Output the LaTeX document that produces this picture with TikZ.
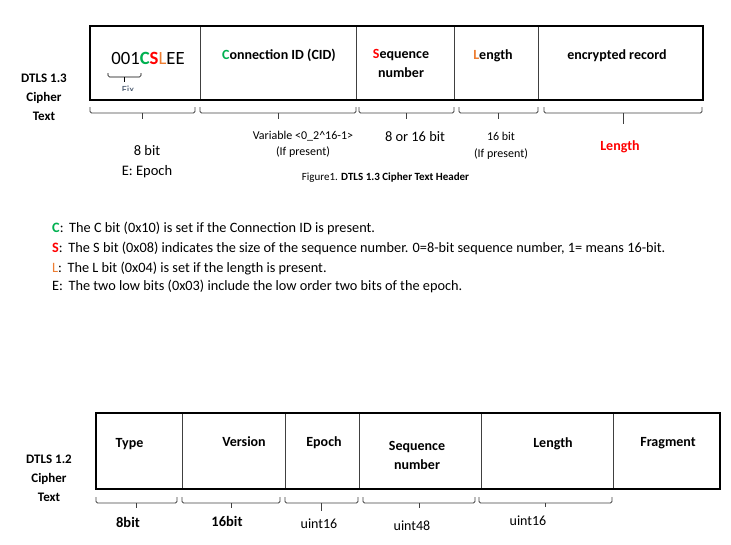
\documentclass[tikz,border=0pt]{standalone}
\usepackage{fontspec}
\setmainfont{Carlito}

\definecolor{cidgreen}{HTML}{00B050}
\definecolor{seqred}{HTML}{FF0000}
\definecolor{lenorange}{HTML}{ED7D31}
\definecolor{fixslate}{HTML}{44546A}

\newcommand\sz[2]{\fontsize{#1}{#2}\selectfont}

\tikzset{
  frame/.style={draw=black, line width=2pt},
  divider/.style={draw=black!75, line width=0.9pt},
  bracket/.style={draw=black!75, line width=0.8pt, rounded corners=1.5pt},
  lbl/.style={inner sep=0pt, text height=0.7em, text depth=0.2em},
  multi/.style={inner sep=0pt, align=center},
}

\newcommand\fieldbrace[4]{%
  \draw[bracket] (#1,#3) -- (#1,#3+6) -- (#2,#3+6) -- (#2,#3);
  \draw[bracket] ({(#1+#2)/2},#3+6) -- ++(0,#4);}

\begin{document}
\begin{tikzpicture}[x=1pt,y=-1pt]
    \useasboundingbox (0,0) rectangle (731,544);
            {
    \def\topya{26}
    \def\topyb{100}
    \def\botya{413}
    \def\botyb{489}

    \def\toprect{(90,\topya) rectangle (703,\topyb)}
    \def\botrect{(96,\botya) rectangle (720,\botyb)}

    \foreach \x in {200,356,454,538}
        \draw[divider] (\x,\topya) -- (\x,\topyb);
    \draw[frame] \toprect;

    \node[lbl, font=\sz{18.7}{22}] (flags) at (148,62)
        {001{\bfseries\color{cidgreen}C}{\bfseries\color{seqred}S}{\color{lenorange}L}EE};
    \draw[bracket, draw=black, line width=0.7pt] (108,73) -- (108,77) -- (141,77) -- (141,73);
    \draw[bracket, draw=black, line width=0.7pt] (124.5,77) -- (124.5,82);
    \begin{scope}
        \clip (100,80) rectangle (150,90.8);
        \node[lbl, font=\sz{11}{13}, text=fixslate] (fix) at (128,90.5) {Fix};
    \end{scope}

    \node[lbl, font=\sz{14}{19}\bfseries] (cid) at (279,57)
        {{\color{cidgreen}C}onnection ID (CID)};
    \node[multi, font=\sz{14}{19}\bfseries] (seq) at (401,63.5)
        {{\color{seqred}S}equence\\number};
    \node[lbl, font=\sz{14}{19}\bfseries] (len) at (493,57)
        {{\color{lenorange}L}ength};
    \node[lbl, font=\sz{14}{19}\bfseries] (rec) at (617,57) {encrypted record};

    \node[multi, font=\sz{13}{19}\bfseries] (dtlsa) at (44,97)
        {DTLS 1.3\\Cipher\\Text};

    \fieldbrace{90}{195}{107}{6}
    \fieldbrace{200}{356}{107}{6}
    \fieldbrace{359}{454}{107}{6}
    \fieldbrace{459}{538}{107}{6}
    \fieldbrace{544}{702}{107}{11}

    \node[multi, font=\sz{14.5}{20}] (bitsa) at (147,162) {8 bit\\E: Epoch};
    \node[multi, font=\sz{12}{16}] (var) at (303,144)
        {Variable <0\_2\^{}16-1>\\(If present)};
    \node[lbl, font=\sz{14.4}{19}] (bitsb) at (415,139) {8 or 16 bit};
    \node[multi, font=\sz{12}{17}] (bitsc) at (501,145.5) {16 bit\\(If present)};
    \node[lbl, font=\sz{14}{19}\bfseries, text=seqred] (reclen) at (620,148) {Length};
    \node[lbl, font=\sz{11}{13}] (caption) at (385.5,178)
        {Figure1. \textbf{DTLS 1.3 Cipher Text Header}};

    \node[lbl, anchor=west, font=\sz{14.3}{19}] (legc) at (52,230)
        {{\bfseries\color{cidgreen}C}:\, The C bit (0x10) is set if the Connection ID is present.};
    \node[lbl, anchor=west, font=\sz{14.3}{19}] (legs) at (52,250)
        {{\bfseries\color{seqred}S}:\, The S bit (0x08) indicates the size of the sequence number. 0=8-bit sequence number, 1= means 16-bit.};
    \node[lbl, anchor=west, font=\sz{14.3}{19}] (legl) at (52,270)
        {{\color{lenorange}L}:\, The L bit (0x04) is set if the length is present.};
    \node[lbl, anchor=west, font=\sz{14.3}{19}] (lege) at (52,288)
        {E:\, The two low bits (0x03) include the low order two bits of the epoch.};

    \foreach \x in {182,285,359,481,613}
        \draw[divider] (\x,\botya) -- (\x,\botyb);
    \draw[frame] \botrect;

    \node[lbl, font=\sz{14}{19}\bfseries] (type) at (129.5,445) {Type};
    \node[lbl, font=\sz{14}{19}\bfseries] (version) at (244,444) {Version};
    \node[lbl, font=\sz{14}{19}\bfseries] (epoch) at (324,444) {Epoch};
    \node[multi, font=\sz{14}{19}\bfseries] (seqnum) at (417,455.5) {Sequence\\number};
    \node[lbl, font=\sz{14}{19}\bfseries] (length) at (553,445) {Length};
    \node[lbl, font=\sz{14}{19}\bfseries] (fragment) at (668,444) {Fragment};

    \node[multi, font=\sz{13}{19}\bfseries] (dtlsb) at (49,478)
        {DTLS 1.2\\Cipher\\Text};

    \fieldbrace{96}{177}{497}{5}
    \fieldbrace{182}{280}{497}{5}
    \fieldbrace{285}{358}{497}{8}
    \fieldbrace{363}{475}{497}{5}
    \fieldbrace{479}{612}{497}{4}

    \node[lbl, font=\sz{14.5}{19}\bfseries] (typebits) at (128,525) {8bit};
    \node[lbl, font=\sz{14.5}{19}\bfseries] (versionbits) at (227,524) {16bit};
    \node[lbl, font=\sz{14}{19}] (epochbits) at (319,526) {uint16};
    \node[lbl, font=\sz{14}{19}] (seqbits) at (412,528) {uint48};
    \node[lbl, font=\sz{14}{19}] (lengthbits) at (528,523) {uint16};
}
\end{tikzpicture}
\end{document}
